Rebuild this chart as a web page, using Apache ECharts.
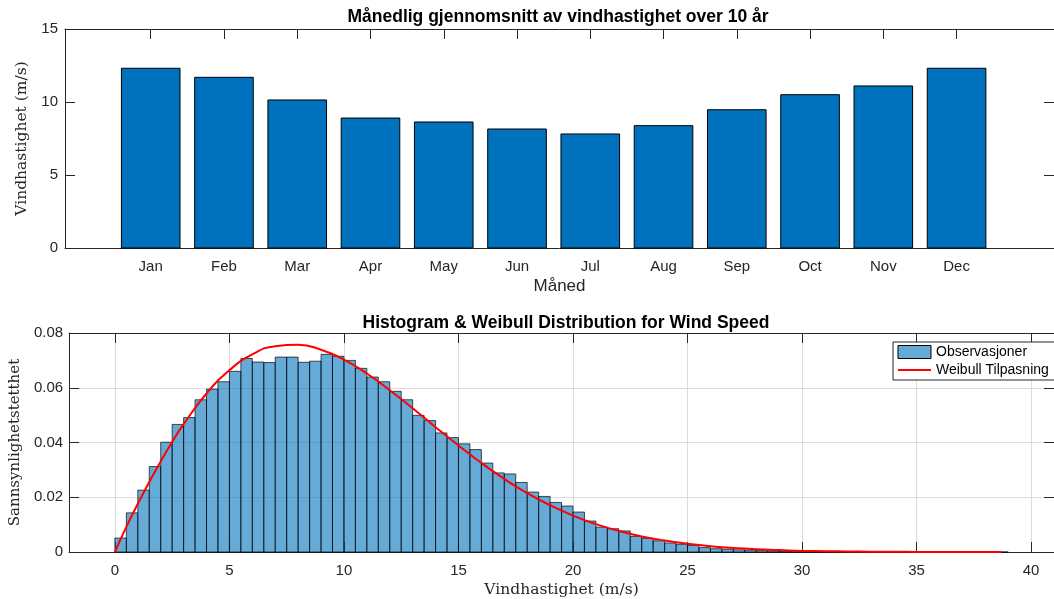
<!DOCTYPE html>
<html><head><meta charset="utf-8">
<script src="https://cdn.jsdelivr.net/npm/echarts@6/dist/echarts.min.js"></script>
<style>html,body{margin:0;padding:0;background:#fff}#c{width:1054px;height:599px}</style>
</head><body><div id="c"></div>
<script>
// ---------- data ----------
const months = ['Jan','Feb','Mar','Apr','May','Jun','Jul','Aug','Sep','Oct','Nov','Dec'];
const monthlyMean = [12.31, 11.69, 10.14, 8.90, 8.63, 8.15, 7.81, 8.38, 9.47, 10.50, 11.10, 12.31];
const topYTicks = [0, 5, 10, 15];

const binStart = 0;
const binWidth = 0.5;
const density = [
  0.0051, 0.0143, 0.0226, 0.0312, 0.0401, 0.0466, 0.0491, 0.0556, 0.0595, 0.0622,
  0.0660, 0.0707, 0.0694, 0.0692, 0.0712, 0.0712, 0.0693, 0.0697, 0.0722, 0.0715,
  0.0700, 0.0671, 0.0639, 0.0622, 0.0587, 0.0556, 0.0499, 0.0480, 0.0435, 0.0418,
  0.0395, 0.0374, 0.0325, 0.0289, 0.0285, 0.0254, 0.0219, 0.0203, 0.0181, 0.0168,
  0.0146, 0.0113, 0.0091, 0.0085, 0.0077, 0.0057, 0.0050, 0.0041, 0.0033, 0.0028,
  0.0024, 0.0016, 0.0012, 0.0010, 0.0008, 0.0007, 0.0005, 0.0004, 0.0003, 0.0003,
  0.0002, 0.0002, 0.0001, 0.0001, 0.0001, 0.0001, 0.00005, 0.00005, 0.00004, 0.00003,
  0.00003, 0.00002, 0.00002, 0.00001, 0.00001, 0.00001, 0.00001, 0.00001
];
const fitX = [0, 0.5, 1, 1.5, 2, 2.5, 3, 4, 5, 6, 7, 8, 9, 10, 11, 12, 13, 14, 15, 16, 17, 18, 19, 20,
  21, 22, 23, 24, 25, 26, 27, 28, 29, 30, 31, 32, 33, 34, 35, 36, 37, 38, 38.7];
const fitY = [0, 0.0092, 0.0176, 0.0256, 0.0331, 0.0402, 0.0467, 0.0579, 0.0664, 0.0722, 0.0752, 0.0757,
  0.0739, 0.0703, 0.0652, 0.0591, 0.0525, 0.0456, 0.0389, 0.0325, 0.0267, 0.0215, 0.0171, 0.0133,
  0.0102, 0.0077, 0.0057, 0.0042, 0.0030, 0.0021, 0.0015, 0.0010, 0.0007, 0.0004, 0.0003, 0.0002,
  0.0001, 0.0001, 0.00004, 0.00003, 0.00002, 0.00001, 0.00001];
const histXTicks = [0, 5, 10, 15, 20, 25, 30, 35, 40];

// ---------- styling ----------
const AX = '#262626';
const SANS = 'Liberation Sans';
const SERIF = 'DejaVu Serif';
const monthPos = months.map((m, i) => i + 1);

function frameAxis(extra) {
  return Object.assign({
    axisLine: { show: true, onZero: false, lineStyle: { color: AX, width: 1 } },
    axisTick: { show: true, inside: true, length: 10, lineStyle: { color: AX } },
    splitLine: { show: false },
    axisLabel: { show: false }
  }, extra);
}

const chart = echarts.init(document.getElementById('c'), null, { renderer: 'canvas' });

const option = {
  animation: false,
  backgroundColor: '#fff',
  title: [
    { text: 'Månedlig gjennomsnitt av vindhastighet over 10 år', left: 558, top: 8, textAlign: 'center', padding: 0,
      textStyle: { fontFamily: SANS, fontSize: 17.5, fontWeight: 'bold', color: '#000' } },
    { text: 'Histogram & Weibull Distribution for Wind Speed', left: 566, top: 314, textAlign: 'center', padding: 0,
      textStyle: { fontFamily: SANS, fontSize: 17.5, fontWeight: 'bold', color: '#000' } }
  ],
  grid: [
    { left: 65, top: 29, width: 998, height: 219 },
    { left: 65, top: 333, width: 1000, height: 219 }
  ],
  legend: {
    left: 893, top: 342, orient: 'vertical',
    itemWidth: 33, itemHeight: 13, itemGap: 4,
    padding: [3, 6, 3, 4],
    backgroundColor: '#fff', borderColor: AX, borderWidth: 1, borderRadius: 0,
    textStyle: { fontFamily: SANS, fontSize: 14, color: '#000' },
    data: [
      { name: 'Observasjoner', icon: 'rect',
        itemStyle: { color: 'rgba(0,114,189,0.6)', borderColor: '#000', borderWidth: 1 } },
      { name: 'Weibull Tilpasning', itemStyle: { opacity: 0 } }
    ]
  },
  xAxis: [
    frameAxis({ gridIndex: 0, type: 'value', position: 'bottom', min: -0.17, max: 13.33,
      axisTick: { show: true, inside: true, length: 10, lineStyle: { color: AX }, customValues: monthPos },
      axisLabel: { show: true, customValues: monthPos, formatter: v => months[Math.round(v) - 1],
        fontFamily: SANS, fontSize: 15, color: AX, margin: 11 },
      name: 'Måned', nameLocation: 'middle', nameGap: 30,
      nameTextStyle: { fontFamily: SANS, fontSize: 17, color: AX } }),
    frameAxis({ gridIndex: 0, type: 'value', position: 'top', min: -0.17, max: 13.33,
      axisTick: { show: true, inside: true, length: 10, lineStyle: { color: AX }, customValues: monthPos } }),
    frameAxis({ gridIndex: 1, type: 'value', position: 'bottom', min: -2, max: 41,
      axisTick: { show: true, inside: true, length: 10, lineStyle: { color: AX }, customValues: histXTicks },
      axisLabel: { show: true, customValues: histXTicks, fontFamily: SANS, fontSize: 15, color: AX, margin: 11 },
      splitLine: { show: true, lineStyle: { color: '#dcdcdc', width: 1 } },
      name: 'Vindhastighet (m/s)', nameLocation: 'middle', nameGap: 30,
      nameTextStyle: { fontFamily: SERIF, fontSize: 15.5, color: AX } }),
    frameAxis({ gridIndex: 1, type: 'value', position: 'top', min: -2, max: 41,
      axisTick: { show: true, inside: true, length: 10, lineStyle: { color: AX }, customValues: histXTicks } })
  ],
  yAxis: [
    frameAxis({ gridIndex: 0, type: 'value', position: 'left', min: 0, max: 15, interval: 5,
      axisLabel: { show: true, customValues: topYTicks, fontFamily: SANS, fontSize: 15, color: AX, margin: 7 },
      name: 'Vindhastighet (m/s)', nameLocation: 'middle', nameGap: 23,
      nameTextStyle: { fontFamily: SERIF, fontSize: 15.5, color: AX } }),
    frameAxis({ gridIndex: 0, type: 'value', position: 'right', min: 0, max: 15, interval: 5 }),
    frameAxis({ gridIndex: 1, type: 'value', position: 'left', min: 0, max: 0.08, interval: 0.02,
      axisLabel: { show: true, fontFamily: SANS, fontSize: 15, color: AX, margin: 6 },
      splitLine: { show: true, lineStyle: { color: '#dcdcdc', width: 1 } },
      name: 'Sannsynlighetstetthet', nameLocation: 'middle', nameGap: 41,
      nameTextStyle: { fontFamily: SERIF, fontSize: 15, color: AX } }),
    frameAxis({ gridIndex: 1, type: 'value', position: 'right', min: 0, max: 0.08, interval: 0.02 })
  ],
  series: [
    {
      type: 'custom', name: 'Monthly', xAxisIndex: 0, yAxisIndex: 0,
      data: monthlyMean.map((v, i) => [monthPos[i], v]),
      encode: { x: 0, y: 1 },
      renderItem: function (params, api) {
        const x = api.value(0), v = api.value(1);
        const p0 = api.coord([x - 0.4, 0]);
        const p1 = api.coord([x + 0.4, v]);
        return { type: 'rect',
          shape: { x: p0[0], y: p1[1], width: p1[0] - p0[0], height: p0[1] - p1[1] },
          style: { fill: '#0072BD', stroke: '#000', lineWidth: 1 } };
      }
    },
    {
      type: 'custom', name: 'Observasjoner', xAxisIndex: 2, yAxisIndex: 2,
      itemStyle: { color: 'rgba(0,114,189,0.6)', borderColor: '#000', borderWidth: 1 },
      data: density.map((d, i) => [binStart + i * binWidth, binStart + (i + 1) * binWidth, d]),
      encode: { x: [0, 1], y: 2 },
      renderItem: function (params, api) {
        const p0 = api.coord([api.value(0), 0]);
        const p1 = api.coord([api.value(1), api.value(2)]);
        return { type: 'rect',
          shape: { x: p0[0], y: p1[1], width: p1[0] - p0[0], height: p0[1] - p1[1] },
          style: { fill: 'rgba(0,114,189,0.6)', stroke: 'rgba(0,0,0,0.85)', lineWidth: 0.8 } };
      }
    },
    {
      type: 'line', name: 'Weibull Tilpasning', xAxisIndex: 2, yAxisIndex: 2,
      data: fitX.map((x, i) => [x, fitY[i]]),
      smooth: 0.5, showSymbol: false, symbol: 'none',
      color: '#ff0000',
      lineStyle: { color: '#ff0000', width: 2 }
    }
  ]
};
chart.setOption(option);
</script>
</body></html>
